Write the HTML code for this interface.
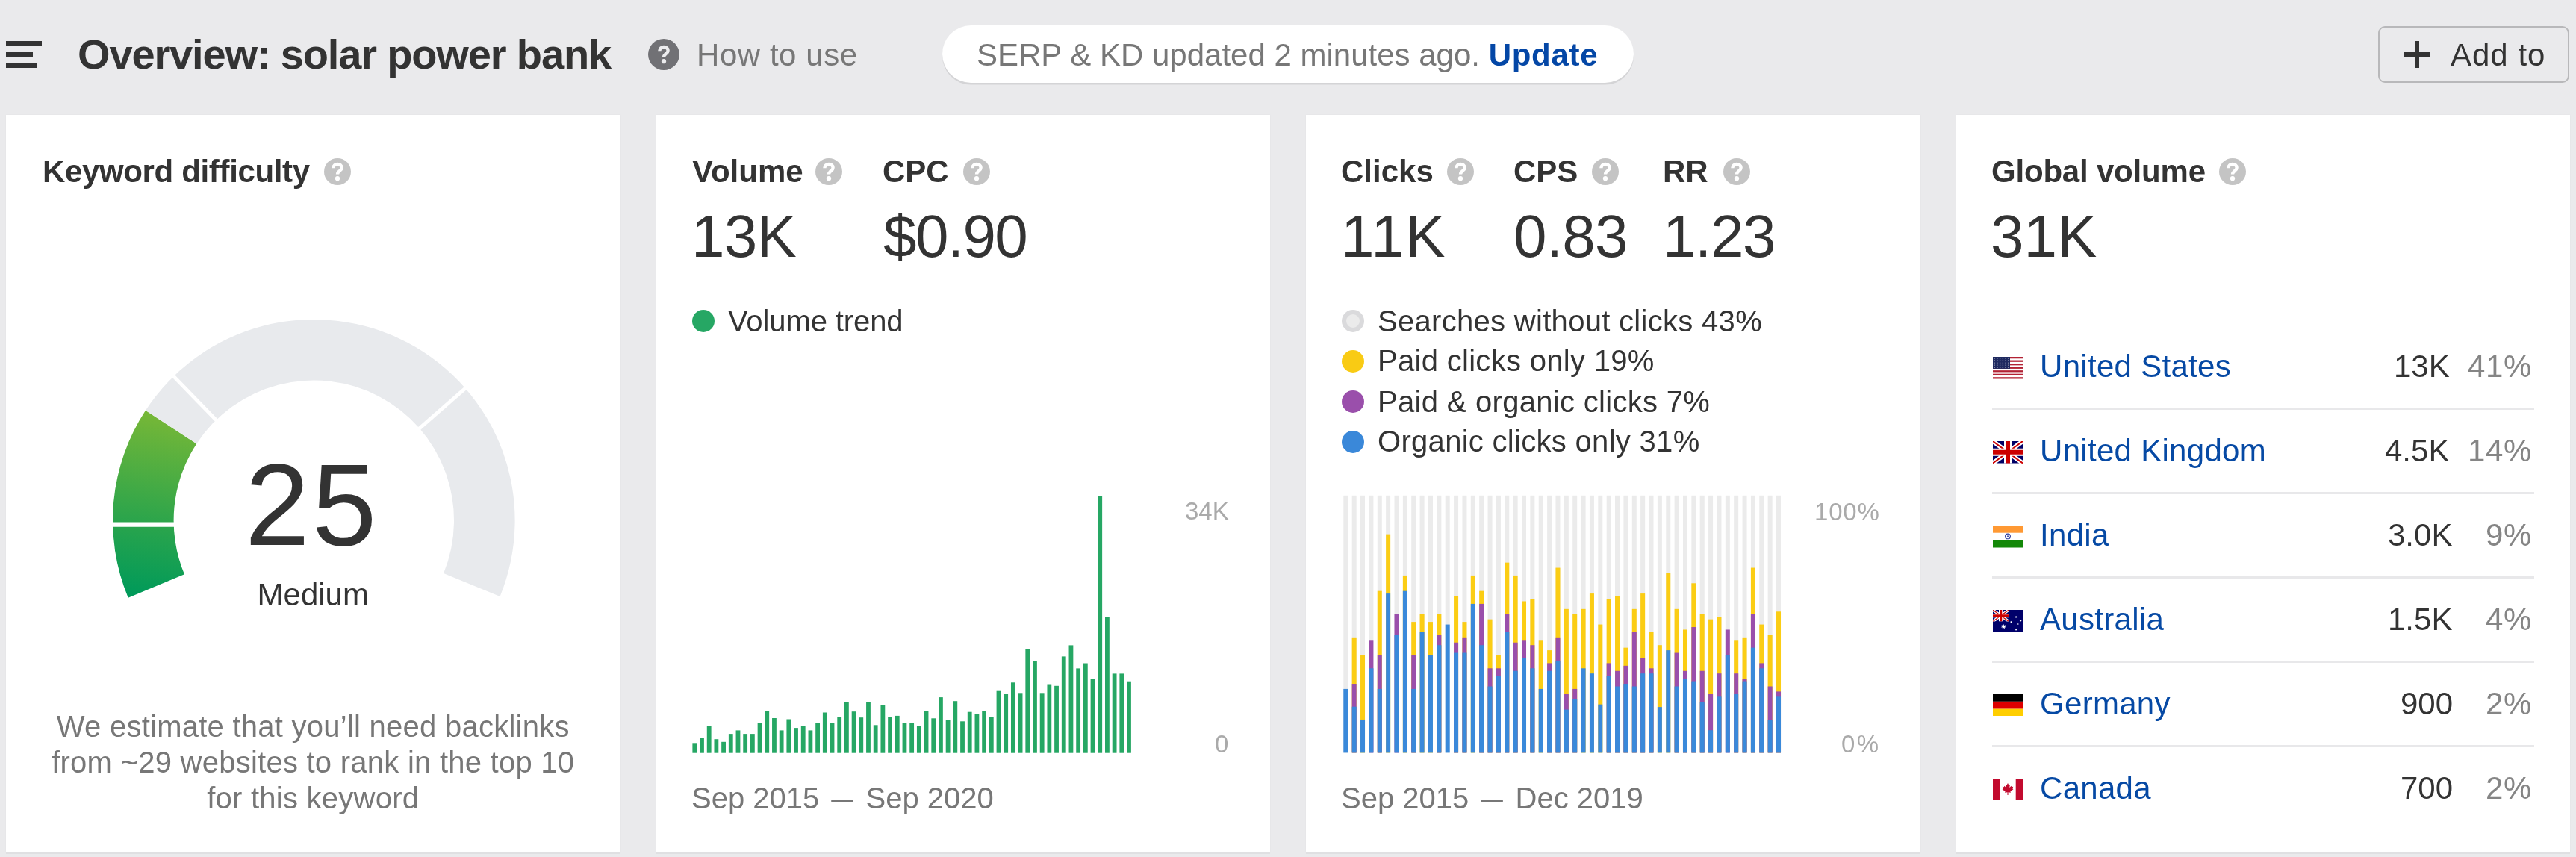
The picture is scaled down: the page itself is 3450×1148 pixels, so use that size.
<!DOCTYPE html><html><head><meta charset="utf-8"><style>
html,body{margin:0;padding:0;}
body{width:3450px;height:1148px;background:#eaeaec;position:relative;overflow:hidden;font-family:"Liberation Sans",sans-serif;}
.t{position:absolute;white-space:nowrap;line-height:1;will-change:transform;}
.a{position:absolute;display:block;}
.card{position:absolute;top:154px;height:987px;background:#fff;box-shadow:0 3px 0 #e0e0e2,0 0 1.5px rgba(0,0,0,0.06);}
</style></head><body>
<div class="a" style="left:8px;top:55px;width:48px;height:6px;background:#333"></div>
<div class="a" style="left:8px;top:70px;width:36px;height:6px;background:#333"></div>
<div class="a" style="left:8px;top:85px;width:42px;height:6px;background:#333"></div>
<div class="t" style="left:104.2px;top:45.1px;font-size:56px;font-weight:700;color:#333;letter-spacing:-1.15px;">Overview: solar power bank</div>
<svg class="a" style="left:868.0px;top:52.0px" width="42" height="42" viewBox="0 0 42 42"><circle cx="21.0" cy="21.0" r="21.0" fill="#717175"/><g transform="translate(3.0 3.0)"><path d="M12.4 13.2C12.4 9.9 14.8 8 18 8C21.2 8 23.6 9.9 23.6 12.7C23.6 15.3 21.6 16.3 20.1 17.7C18.8 18.9 18 19.6 18 21.4" fill="none" stroke="#ececee" stroke-width="4.4"/><circle cx="18" cy="27.2" r="3.1" fill="#ececee"/></g></svg>
<div class="t" style="left:933.0px;top:52.6px;font-size:42px;font-weight:400;color:#777;letter-spacing:0.55px;">How to use</div>
<div class="a" style="left:1261.6px;top:33.9px;width:926.6px;height:77.6px;border-radius:38.8px;background:#fff;box-shadow:0 2.6px 0.6px #d4d4d6"></div>
<div class="t" style="left:1308.0px;top:52.6px;font-size:42px;font-weight:400;color:#777;">SERP &amp; KD updated 2 minutes ago. <b style="color:#0447a6;letter-spacing:0.7px">Update</b></div>
<div class="a" style="left:3184.5px;top:34.5px;width:252px;height:72px;border:2.5px solid #b8b8ba;border-radius:9px"></div>
<div class="a" style="left:3219px;top:70px;width:36px;height:6px;background:#333"></div>
<div class="a" style="left:3234px;top:55px;width:6px;height:36px;background:#333"></div>
<div class="t" style="left:3282.0px;top:52.7px;font-size:42px;font-weight:400;color:#333;letter-spacing:1px;">Add to</div>
<div class="card" style="left:8px;width:823px"></div>
<div class="card" style="left:879px;width:822px"></div>
<div class="card" style="left:1749px;width:823px"></div>
<div class="card" style="left:2620px;width:822px"></div>
<div class="t" style="left:56.6px;top:208.9px;font-size:42px;font-weight:700;color:#333;letter-spacing:-0.35px;">Keyword difficulty</div>
<svg class="a" style="left:434.0px;top:212.0px" width="36" height="36" viewBox="0 0 36 36"><circle cx="18.0" cy="18.0" r="18.0" fill="#c4c4c4"/><g transform="translate(0.0 0.0)"><path d="M12.4 13.2C12.4 9.9 14.8 8 18 8C21.2 8 23.6 9.9 23.6 12.7C23.6 15.3 21.6 16.3 20.1 17.7C18.8 18.9 18 19.6 18 21.4" fill="none" stroke="#fff" stroke-width="4.4"/><circle cx="18" cy="27.2" r="3.1" fill="#fff"/></g></svg>
<div class="t" style="left:926.5px;top:208.9px;font-size:42px;font-weight:700;color:#333;">Volume</div>
<svg class="a" style="left:1092.0px;top:212.0px" width="36" height="36" viewBox="0 0 36 36"><circle cx="18.0" cy="18.0" r="18.0" fill="#c4c4c4"/><g transform="translate(0.0 0.0)"><path d="M12.4 13.2C12.4 9.9 14.8 8 18 8C21.2 8 23.6 9.9 23.6 12.7C23.6 15.3 21.6 16.3 20.1 17.7C18.8 18.9 18 19.6 18 21.4" fill="none" stroke="#fff" stroke-width="4.4"/><circle cx="18" cy="27.2" r="3.1" fill="#fff"/></g></svg>
<div class="t" style="left:1181.5px;top:208.9px;font-size:42px;font-weight:700;color:#333;">CPC</div>
<svg class="a" style="left:1290.0px;top:212.0px" width="36" height="36" viewBox="0 0 36 36"><circle cx="18.0" cy="18.0" r="18.0" fill="#c4c4c4"/><g transform="translate(0.0 0.0)"><path d="M12.4 13.2C12.4 9.9 14.8 8 18 8C21.2 8 23.6 9.9 23.6 12.7C23.6 15.3 21.6 16.3 20.1 17.7C18.8 18.9 18 19.6 18 21.4" fill="none" stroke="#fff" stroke-width="4.4"/><circle cx="18" cy="27.2" r="3.1" fill="#fff"/></g></svg>
<div class="t" style="left:1796.0px;top:208.9px;font-size:42px;font-weight:700;color:#333;">Clicks</div>
<svg class="a" style="left:1938.4px;top:212.0px" width="36" height="36" viewBox="0 0 36 36"><circle cx="18.0" cy="18.0" r="18.0" fill="#c4c4c4"/><g transform="translate(0.0 0.0)"><path d="M12.4 13.2C12.4 9.9 14.8 8 18 8C21.2 8 23.6 9.9 23.6 12.7C23.6 15.3 21.6 16.3 20.1 17.7C18.8 18.9 18 19.6 18 21.4" fill="none" stroke="#fff" stroke-width="4.4"/><circle cx="18" cy="27.2" r="3.1" fill="#fff"/></g></svg>
<div class="t" style="left:2026.8px;top:208.9px;font-size:42px;font-weight:700;color:#333;">CPS</div>
<svg class="a" style="left:2132.4px;top:212.0px" width="36" height="36" viewBox="0 0 36 36"><circle cx="18.0" cy="18.0" r="18.0" fill="#c4c4c4"/><g transform="translate(0.0 0.0)"><path d="M12.4 13.2C12.4 9.9 14.8 8 18 8C21.2 8 23.6 9.9 23.6 12.7C23.6 15.3 21.6 16.3 20.1 17.7C18.8 18.9 18 19.6 18 21.4" fill="none" stroke="#fff" stroke-width="4.4"/><circle cx="18" cy="27.2" r="3.1" fill="#fff"/></g></svg>
<div class="t" style="left:2226.7px;top:208.9px;font-size:42px;font-weight:700;color:#333;">RR</div>
<svg class="a" style="left:2308.0px;top:212.0px" width="36" height="36" viewBox="0 0 36 36"><circle cx="18.0" cy="18.0" r="18.0" fill="#c4c4c4"/><g transform="translate(0.0 0.0)"><path d="M12.4 13.2C12.4 9.9 14.8 8 18 8C21.2 8 23.6 9.9 23.6 12.7C23.6 15.3 21.6 16.3 20.1 17.7C18.8 18.9 18 19.6 18 21.4" fill="none" stroke="#fff" stroke-width="4.4"/><circle cx="18" cy="27.2" r="3.1" fill="#fff"/></g></svg>
<div class="t" style="left:2666.6px;top:208.9px;font-size:42px;font-weight:700;color:#333;letter-spacing:-0.2px;">Global volume</div>
<svg class="a" style="left:2972.0px;top:212.0px" width="36" height="36" viewBox="0 0 36 36"><circle cx="18.0" cy="18.0" r="18.0" fill="#c4c4c4"/><g transform="translate(0.0 0.0)"><path d="M12.4 13.2C12.4 9.9 14.8 8 18 8C21.2 8 23.6 9.9 23.6 12.7C23.6 15.3 21.6 16.3 20.1 17.7C18.8 18.9 18 19.6 18 21.4" fill="none" stroke="#fff" stroke-width="4.4"/><circle cx="18" cy="27.2" r="3.1" fill="#fff"/></g></svg>
<div class="t" style="left:925.8px;top:276.6px;font-size:80px;font-weight:400;color:#333;letter-spacing:-0.8px;">13K</div>
<div class="t" style="left:1183.4px;top:276.6px;font-size:80px;font-weight:400;color:#333;letter-spacing:-1.6px;">$0.90</div>
<div class="t" style="left:1796.3px;top:276.6px;font-size:80px;font-weight:400;color:#333;letter-spacing:1.6px;">11K</div>
<div class="t" style="left:2027.2px;top:276.6px;font-size:80px;font-weight:400;color:#333;letter-spacing:-0.7px;">0.83</div>
<div class="t" style="left:2227.3px;top:276.6px;font-size:80px;font-weight:400;color:#333;letter-spacing:-1.4px;">1.23</div>
<div class="t" style="left:2665.6px;top:276.6px;font-size:80px;font-weight:400;color:#333;">31K</div>
<svg class="a" style="left:0;top:0" width="850" height="1148" viewBox="0 0 850 1148"><defs><linearGradient id="gg" gradientUnits="userSpaceOnUse" x1="250" y1="548" x2="210" y2="802"><stop offset="0" stop-color="#7db935"/><stop offset="0.6" stop-color="#2da54b"/><stop offset="1" stop-color="#009a5a"/></linearGradient></defs><path d="M171.68 800.69A269.3 269.3 0 0 1 194.96 549.74L263.24 594.42A187.7 187.7 0 0 0 247.01 769.33Z" fill="url(#gg)"/><path d="M194.96 549.74A269.3 269.3 0 0 1 669.64 798.95L594.09 768.12A187.7 187.7 0 0 0 263.24 594.42Z" fill="#e8eaed"/><line x1="130" y1="702.6" x2="250" y2="702.6" stroke="#fff" stroke-width="6.4"/><line x1="295.02" y1="568.37" x2="226.98" y2="498.40" stroke="#fff" stroke-width="4.8"/><line x1="555.72" y1="579.07" x2="629.26" y2="514.91" stroke="#fff" stroke-width="4.8"/></svg>
<div class="t" style="left:8px;width:822.5px;text-align:center;top:598.1px;font-size:156px;color:#333;letter-spacing:3px;text-indent:-3px">25</div>
<div class="t" style="left:8px;width:822.5px;text-align:center;top:776.1px;font-size:42px;color:#333">Medium</div>
<div class="t" style="left:8px;width:822.5px;text-align:center;top:952.7px;font-size:40px;color:#777;letter-spacing:0.25px">We estimate that you’ll need backlinks</div>
<div class="t" style="left:8px;width:822.5px;text-align:center;top:1000.7px;font-size:40px;color:#777;letter-spacing:0.25px">from ~29 websites to rank in the top 10</div>
<div class="t" style="left:8px;width:822.5px;text-align:center;top:1048.8px;font-size:40px;color:#777;letter-spacing:0.25px">for this keyword</div>
<svg class="a" style="left:0;top:0" width="1700" height="1148"><rect x="927.40" y="995.30" width="5.8" height="13.40" fill="#26a764"/><rect x="937.10" y="988.20" width="5.8" height="20.50" fill="#26a764"/><rect x="946.79" y="972.10" width="5.8" height="36.60" fill="#26a764"/><rect x="956.49" y="990.20" width="5.8" height="18.50" fill="#26a764"/><rect x="966.18" y="993.80" width="5.8" height="14.90" fill="#26a764"/><rect x="975.88" y="983.10" width="5.8" height="25.60" fill="#26a764"/><rect x="985.57" y="978.40" width="5.8" height="30.30" fill="#26a764"/><rect x="995.26" y="983.10" width="5.8" height="25.60" fill="#26a764"/><rect x="1004.96" y="983.10" width="5.8" height="25.60" fill="#26a764"/><rect x="1014.65" y="968.50" width="5.8" height="40.20" fill="#26a764"/><rect x="1024.35" y="952.20" width="5.8" height="56.50" fill="#26a764"/><rect x="1034.05" y="962.00" width="5.8" height="46.70" fill="#26a764"/><rect x="1043.74" y="978.40" width="5.8" height="30.30" fill="#26a764"/><rect x="1053.43" y="963.50" width="5.8" height="45.20" fill="#26a764"/><rect x="1063.13" y="975.10" width="5.8" height="33.60" fill="#26a764"/><rect x="1072.83" y="972.40" width="5.8" height="36.30" fill="#26a764"/><rect x="1082.52" y="978.40" width="5.8" height="30.30" fill="#26a764"/><rect x="1092.21" y="968.80" width="5.8" height="39.90" fill="#26a764"/><rect x="1101.91" y="954.50" width="5.8" height="54.20" fill="#26a764"/><rect x="1111.61" y="968.50" width="5.8" height="40.20" fill="#26a764"/><rect x="1121.30" y="960.10" width="5.8" height="48.60" fill="#26a764"/><rect x="1130.99" y="940.30" width="5.8" height="68.40" fill="#26a764"/><rect x="1140.69" y="953.20" width="5.8" height="55.50" fill="#26a764"/><rect x="1150.38" y="961.20" width="5.8" height="47.50" fill="#26a764"/><rect x="1160.08" y="940.30" width="5.8" height="68.40" fill="#26a764"/><rect x="1169.78" y="971.30" width="5.8" height="37.40" fill="#26a764"/><rect x="1179.47" y="944.20" width="5.8" height="64.50" fill="#26a764"/><rect x="1189.16" y="960.10" width="5.8" height="48.60" fill="#26a764"/><rect x="1198.86" y="958.90" width="5.8" height="49.80" fill="#26a764"/><rect x="1208.56" y="968.90" width="5.8" height="39.80" fill="#26a764"/><rect x="1218.25" y="968.20" width="5.8" height="40.50" fill="#26a764"/><rect x="1227.94" y="973.00" width="5.8" height="35.70" fill="#26a764"/><rect x="1237.64" y="952.60" width="5.8" height="56.10" fill="#26a764"/><rect x="1247.34" y="962.30" width="5.8" height="46.40" fill="#26a764"/><rect x="1257.03" y="934.10" width="5.8" height="74.60" fill="#26a764"/><rect x="1266.72" y="965.00" width="5.8" height="43.70" fill="#26a764"/><rect x="1276.42" y="939.20" width="5.8" height="69.50" fill="#26a764"/><rect x="1286.12" y="966.30" width="5.8" height="42.40" fill="#26a764"/><rect x="1295.81" y="953.70" width="5.8" height="55.00" fill="#26a764"/><rect x="1305.51" y="956.30" width="5.8" height="52.40" fill="#26a764"/><rect x="1315.20" y="952.50" width="5.8" height="56.20" fill="#26a764"/><rect x="1324.89" y="960.70" width="5.8" height="48.00" fill="#26a764"/><rect x="1334.59" y="924.70" width="5.8" height="84.00" fill="#26a764"/><rect x="1344.28" y="929.00" width="5.8" height="79.70" fill="#26a764"/><rect x="1353.98" y="914.30" width="5.8" height="94.40" fill="#26a764"/><rect x="1363.67" y="928.30" width="5.8" height="80.40" fill="#26a764"/><rect x="1373.37" y="869.20" width="5.8" height="139.50" fill="#26a764"/><rect x="1383.07" y="886.00" width="5.8" height="122.70" fill="#26a764"/><rect x="1392.76" y="928.30" width="5.8" height="80.40" fill="#26a764"/><rect x="1402.45" y="916.50" width="5.8" height="92.20" fill="#26a764"/><rect x="1412.15" y="918.80" width="5.8" height="89.90" fill="#26a764"/><rect x="1421.85" y="879.40" width="5.8" height="129.30" fill="#26a764"/><rect x="1431.54" y="864.40" width="5.8" height="144.30" fill="#26a764"/><rect x="1441.24" y="895.40" width="5.8" height="113.30" fill="#26a764"/><rect x="1450.93" y="888.50" width="5.8" height="120.20" fill="#26a764"/><rect x="1460.62" y="909.50" width="5.8" height="99.20" fill="#26a764"/><rect x="1470.32" y="664.30" width="5.8" height="344.40" fill="#26a764"/><rect x="1480.01" y="826.40" width="5.8" height="182.30" fill="#26a764"/><rect x="1489.71" y="902.40" width="5.8" height="106.30" fill="#26a764"/><rect x="1499.40" y="902.40" width="5.8" height="106.30" fill="#26a764"/><rect x="1509.10" y="912.70" width="5.8" height="96.00" fill="#26a764"/></svg>
<div class="a" style="left:926.8px;top:415px;width:30px;height:30px;border-radius:50%;background:#26a764"></div>
<div class="t" style="left:975.0px;top:409.7px;font-size:40px;font-weight:400;color:#333;letter-spacing:-0.1px;">Volume trend</div>
<div class="t" style="right:1804.5px;top:668.1px;font-size:33px;font-weight:400;color:#aaa;">34K</div>
<div class="t" style="right:1804.5px;top:980.2px;font-size:33px;font-weight:400;color:#aaa;">0</div>
<div class="t" style="left:925.5px;top:1048.8px;font-size:40px;font-weight:400;color:#777;">Sep 2015 <span style="display:inline-block;transform:scaleX(0.74)">—</span> Sep 2020</div>
<svg class="a" style="left:0;top:0" width="2571" height="1148"><rect x="1799.30" y="663.8" width="6.0" height="344.60" fill="#ebebeb"/><rect x="1799.30" y="922.93" width="6.0" height="85.47" fill="#3a89da"/><rect x="1810.67" y="663.8" width="6.0" height="344.60" fill="#ebebeb"/><rect x="1810.67" y="853.83" width="6.0" height="154.57" fill="#fbcd14"/><rect x="1810.67" y="916.02" width="6.0" height="92.38" fill="#9a4fab"/><rect x="1810.67" y="946.68" width="6.0" height="61.72" fill="#3a89da"/><rect x="1822.03" y="663.8" width="6.0" height="344.60" fill="#ebebeb"/><rect x="1822.03" y="878.02" width="6.0" height="130.38" fill="#fbcd14"/><rect x="1822.03" y="963.96" width="6.0" height="44.44" fill="#3a89da"/><rect x="1833.40" y="663.8" width="6.0" height="344.60" fill="#ebebeb"/><rect x="1833.40" y="857.29" width="6.0" height="151.11" fill="#9a4fab"/><rect x="1833.40" y="895.29" width="6.0" height="113.11" fill="#3a89da"/><rect x="1844.77" y="663.8" width="6.0" height="344.60" fill="#ebebeb"/><rect x="1844.77" y="791.65" width="6.0" height="216.75" fill="#fbcd14"/><rect x="1844.77" y="878.02" width="6.0" height="130.38" fill="#9a4fab"/><rect x="1844.77" y="922.93" width="6.0" height="85.47" fill="#3a89da"/><rect x="1856.13" y="663.8" width="6.0" height="344.60" fill="#ebebeb"/><rect x="1856.13" y="715.64" width="6.0" height="292.76" fill="#fbcd14"/><rect x="1856.13" y="795.10" width="6.0" height="213.30" fill="#3a89da"/><rect x="1867.50" y="663.8" width="6.0" height="344.60" fill="#ebebeb"/><rect x="1867.50" y="822.74" width="6.0" height="185.66" fill="#9a4fab"/><rect x="1867.50" y="850.38" width="6.0" height="158.02" fill="#3a89da"/><rect x="1878.87" y="663.8" width="6.0" height="344.60" fill="#ebebeb"/><rect x="1878.87" y="770.92" width="6.0" height="237.48" fill="#fbcd14"/><rect x="1878.87" y="791.65" width="6.0" height="216.75" fill="#3a89da"/><rect x="1890.24" y="663.8" width="6.0" height="344.60" fill="#ebebeb"/><rect x="1890.24" y="833.11" width="6.0" height="175.29" fill="#fbcd14"/><rect x="1890.24" y="878.02" width="6.0" height="130.38" fill="#9a4fab"/><rect x="1890.24" y="922.93" width="6.0" height="85.47" fill="#3a89da"/><rect x="1901.60" y="663.8" width="6.0" height="344.60" fill="#ebebeb"/><rect x="1901.60" y="822.74" width="6.0" height="185.66" fill="#fbcd14"/><rect x="1901.60" y="846.93" width="6.0" height="161.47" fill="#3a89da"/><rect x="1912.97" y="663.8" width="6.0" height="344.60" fill="#ebebeb"/><rect x="1912.97" y="833.11" width="6.0" height="175.29" fill="#fbcd14"/><rect x="1912.97" y="878.02" width="6.0" height="130.38" fill="#3a89da"/><rect x="1924.34" y="663.8" width="6.0" height="344.60" fill="#ebebeb"/><rect x="1924.34" y="822.74" width="6.0" height="185.66" fill="#fbcd14"/><rect x="1924.34" y="850.38" width="6.0" height="158.02" fill="#9a4fab"/><rect x="1924.34" y="864.20" width="6.0" height="144.20" fill="#3a89da"/><rect x="1935.70" y="663.8" width="6.0" height="344.60" fill="#ebebeb"/><rect x="1935.70" y="836.56" width="6.0" height="171.84" fill="#3a89da"/><rect x="1947.07" y="663.8" width="6.0" height="344.60" fill="#ebebeb"/><rect x="1947.07" y="798.56" width="6.0" height="209.84" fill="#fbcd14"/><rect x="1947.07" y="860.74" width="6.0" height="147.66" fill="#9a4fab"/><rect x="1947.07" y="874.56" width="6.0" height="133.84" fill="#3a89da"/><rect x="1958.44" y="663.8" width="6.0" height="344.60" fill="#ebebeb"/><rect x="1958.44" y="833.11" width="6.0" height="175.29" fill="#fbcd14"/><rect x="1958.44" y="853.83" width="6.0" height="154.57" fill="#9a4fab"/><rect x="1958.44" y="874.56" width="6.0" height="133.84" fill="#3a89da"/><rect x="1969.81" y="663.8" width="6.0" height="344.60" fill="#ebebeb"/><rect x="1969.81" y="770.92" width="6.0" height="237.48" fill="#fbcd14"/><rect x="1969.81" y="808.92" width="6.0" height="199.48" fill="#3a89da"/><rect x="1981.17" y="663.8" width="6.0" height="344.60" fill="#ebebeb"/><rect x="1981.17" y="791.65" width="6.0" height="216.75" fill="#fbcd14"/><rect x="1981.17" y="808.92" width="6.0" height="199.48" fill="#9a4fab"/><rect x="1981.17" y="864.20" width="6.0" height="144.20" fill="#3a89da"/><rect x="1992.54" y="663.8" width="6.0" height="344.60" fill="#ebebeb"/><rect x="1992.54" y="829.65" width="6.0" height="178.75" fill="#fbcd14"/><rect x="1992.54" y="895.29" width="6.0" height="113.11" fill="#9a4fab"/><rect x="1992.54" y="919.48" width="6.0" height="88.92" fill="#3a89da"/><rect x="2003.91" y="663.8" width="6.0" height="344.60" fill="#ebebeb"/><rect x="2003.91" y="878.02" width="6.0" height="130.38" fill="#fbcd14"/><rect x="2003.91" y="895.29" width="6.0" height="113.11" fill="#9a4fab"/><rect x="2003.91" y="905.66" width="6.0" height="102.74" fill="#3a89da"/><rect x="2015.27" y="663.8" width="6.0" height="344.60" fill="#ebebeb"/><rect x="2015.27" y="753.64" width="6.0" height="254.76" fill="#fbcd14"/><rect x="2015.27" y="822.74" width="6.0" height="185.66" fill="#9a4fab"/><rect x="2015.27" y="846.93" width="6.0" height="161.47" fill="#3a89da"/><rect x="2026.64" y="663.8" width="6.0" height="344.60" fill="#ebebeb"/><rect x="2026.64" y="770.92" width="6.0" height="237.48" fill="#fbcd14"/><rect x="2026.64" y="860.74" width="6.0" height="147.66" fill="#9a4fab"/><rect x="2026.64" y="898.75" width="6.0" height="109.65" fill="#3a89da"/><rect x="2038.01" y="663.8" width="6.0" height="344.60" fill="#ebebeb"/><rect x="2038.01" y="805.47" width="6.0" height="202.93" fill="#fbcd14"/><rect x="2038.01" y="857.29" width="6.0" height="151.11" fill="#9a4fab"/><rect x="2038.01" y="881.47" width="6.0" height="126.93" fill="#3a89da"/><rect x="2049.37" y="663.8" width="6.0" height="344.60" fill="#ebebeb"/><rect x="2049.37" y="802.01" width="6.0" height="206.39" fill="#fbcd14"/><rect x="2049.37" y="864.20" width="6.0" height="144.20" fill="#9a4fab"/><rect x="2049.37" y="895.29" width="6.0" height="113.11" fill="#3a89da"/><rect x="2060.74" y="663.8" width="6.0" height="344.60" fill="#ebebeb"/><rect x="2060.74" y="857.29" width="6.0" height="151.11" fill="#fbcd14"/><rect x="2060.74" y="922.93" width="6.0" height="85.47" fill="#3a89da"/><rect x="2072.11" y="663.8" width="6.0" height="344.60" fill="#ebebeb"/><rect x="2072.11" y="871.11" width="6.0" height="137.29" fill="#fbcd14"/><rect x="2072.11" y="888.38" width="6.0" height="120.02" fill="#9a4fab"/><rect x="2072.11" y="898.75" width="6.0" height="109.65" fill="#3a89da"/><rect x="2083.47" y="663.8" width="6.0" height="344.60" fill="#ebebeb"/><rect x="2083.47" y="760.55" width="6.0" height="247.85" fill="#fbcd14"/><rect x="2083.47" y="853.83" width="6.0" height="154.57" fill="#9a4fab"/><rect x="2083.47" y="884.93" width="6.0" height="123.47" fill="#3a89da"/><rect x="2094.84" y="663.8" width="6.0" height="344.60" fill="#ebebeb"/><rect x="2094.84" y="815.83" width="6.0" height="192.57" fill="#fbcd14"/><rect x="2094.84" y="929.84" width="6.0" height="78.56" fill="#9a4fab"/><rect x="2094.84" y="950.57" width="6.0" height="57.83" fill="#3a89da"/><rect x="2106.21" y="663.8" width="6.0" height="344.60" fill="#ebebeb"/><rect x="2106.21" y="822.74" width="6.0" height="185.66" fill="#fbcd14"/><rect x="2106.21" y="922.93" width="6.0" height="85.47" fill="#9a4fab"/><rect x="2106.21" y="936.75" width="6.0" height="71.65" fill="#3a89da"/><rect x="2117.58" y="663.8" width="6.0" height="344.60" fill="#ebebeb"/><rect x="2117.58" y="815.83" width="6.0" height="192.57" fill="#fbcd14"/><rect x="2117.58" y="895.29" width="6.0" height="113.11" fill="#3a89da"/><rect x="2128.94" y="663.8" width="6.0" height="344.60" fill="#ebebeb"/><rect x="2128.94" y="795.10" width="6.0" height="213.30" fill="#fbcd14"/><rect x="2128.94" y="902.20" width="6.0" height="106.20" fill="#3a89da"/><rect x="2140.31" y="663.8" width="6.0" height="344.60" fill="#ebebeb"/><rect x="2140.31" y="836.56" width="6.0" height="171.84" fill="#fbcd14"/><rect x="2140.31" y="943.66" width="6.0" height="64.74" fill="#3a89da"/><rect x="2151.68" y="663.8" width="6.0" height="344.60" fill="#ebebeb"/><rect x="2151.68" y="802.01" width="6.0" height="206.39" fill="#fbcd14"/><rect x="2151.68" y="888.38" width="6.0" height="120.02" fill="#9a4fab"/><rect x="2151.68" y="905.66" width="6.0" height="102.74" fill="#3a89da"/><rect x="2163.04" y="663.8" width="6.0" height="344.60" fill="#ebebeb"/><rect x="2163.04" y="798.56" width="6.0" height="209.84" fill="#fbcd14"/><rect x="2163.04" y="898.75" width="6.0" height="109.65" fill="#9a4fab"/><rect x="2163.04" y="919.48" width="6.0" height="88.92" fill="#3a89da"/><rect x="2174.41" y="663.8" width="6.0" height="344.60" fill="#ebebeb"/><rect x="2174.41" y="867.65" width="6.0" height="140.75" fill="#fbcd14"/><rect x="2174.41" y="891.84" width="6.0" height="116.56" fill="#9a4fab"/><rect x="2174.41" y="916.02" width="6.0" height="92.38" fill="#3a89da"/><rect x="2185.78" y="663.8" width="6.0" height="344.60" fill="#ebebeb"/><rect x="2185.78" y="815.83" width="6.0" height="192.57" fill="#fbcd14"/><rect x="2185.78" y="846.93" width="6.0" height="161.47" fill="#9a4fab"/><rect x="2185.78" y="919.48" width="6.0" height="88.92" fill="#3a89da"/><rect x="2197.14" y="663.8" width="6.0" height="344.60" fill="#ebebeb"/><rect x="2197.14" y="795.10" width="6.0" height="213.30" fill="#fbcd14"/><rect x="2197.14" y="881.47" width="6.0" height="126.93" fill="#9a4fab"/><rect x="2197.14" y="902.20" width="6.0" height="106.20" fill="#3a89da"/><rect x="2208.51" y="663.8" width="6.0" height="344.60" fill="#ebebeb"/><rect x="2208.51" y="846.93" width="6.0" height="161.47" fill="#fbcd14"/><rect x="2208.51" y="895.29" width="6.0" height="113.11" fill="#9a4fab"/><rect x="2208.51" y="902.20" width="6.0" height="106.20" fill="#3a89da"/><rect x="2219.88" y="663.8" width="6.0" height="344.60" fill="#ebebeb"/><rect x="2219.88" y="864.20" width="6.0" height="144.20" fill="#fbcd14"/><rect x="2219.88" y="947.12" width="6.0" height="61.28" fill="#3a89da"/><rect x="2231.25" y="663.8" width="6.0" height="344.60" fill="#ebebeb"/><rect x="2231.25" y="767.46" width="6.0" height="240.94" fill="#fbcd14"/><rect x="2231.25" y="871.11" width="6.0" height="137.29" fill="#3a89da"/><rect x="2242.61" y="663.8" width="6.0" height="344.60" fill="#ebebeb"/><rect x="2242.61" y="815.83" width="6.0" height="192.57" fill="#fbcd14"/><rect x="2242.61" y="874.56" width="6.0" height="133.84" fill="#9a4fab"/><rect x="2242.61" y="919.48" width="6.0" height="88.92" fill="#3a89da"/><rect x="2253.98" y="663.8" width="6.0" height="344.60" fill="#ebebeb"/><rect x="2253.98" y="843.47" width="6.0" height="164.93" fill="#fbcd14"/><rect x="2253.98" y="898.75" width="6.0" height="109.65" fill="#9a4fab"/><rect x="2253.98" y="909.11" width="6.0" height="99.29" fill="#3a89da"/><rect x="2265.35" y="663.8" width="6.0" height="344.60" fill="#ebebeb"/><rect x="2265.35" y="781.28" width="6.0" height="227.12" fill="#fbcd14"/><rect x="2265.35" y="840.02" width="6.0" height="168.38" fill="#9a4fab"/><rect x="2265.35" y="912.57" width="6.0" height="95.83" fill="#3a89da"/><rect x="2276.71" y="663.8" width="6.0" height="344.60" fill="#ebebeb"/><rect x="2276.71" y="822.74" width="6.0" height="185.66" fill="#fbcd14"/><rect x="2276.71" y="898.75" width="6.0" height="109.65" fill="#9a4fab"/><rect x="2276.71" y="940.21" width="6.0" height="68.19" fill="#3a89da"/><rect x="2288.08" y="663.8" width="6.0" height="344.60" fill="#ebebeb"/><rect x="2288.08" y="829.65" width="6.0" height="178.75" fill="#fbcd14"/><rect x="2288.08" y="929.84" width="6.0" height="78.56" fill="#9a4fab"/><rect x="2288.08" y="978.21" width="6.0" height="30.19" fill="#3a89da"/><rect x="2299.45" y="663.8" width="6.0" height="344.60" fill="#ebebeb"/><rect x="2299.45" y="826.20" width="6.0" height="182.20" fill="#fbcd14"/><rect x="2299.45" y="902.20" width="6.0" height="106.20" fill="#9a4fab"/><rect x="2299.45" y="933.30" width="6.0" height="75.10" fill="#3a89da"/><rect x="2310.82" y="663.8" width="6.0" height="344.60" fill="#ebebeb"/><rect x="2310.82" y="843.47" width="6.0" height="164.93" fill="#9a4fab"/><rect x="2310.82" y="878.02" width="6.0" height="130.38" fill="#3a89da"/><rect x="2322.18" y="663.8" width="6.0" height="344.60" fill="#ebebeb"/><rect x="2322.18" y="857.29" width="6.0" height="151.11" fill="#fbcd14"/><rect x="2322.18" y="902.20" width="6.0" height="106.20" fill="#9a4fab"/><rect x="2322.18" y="929.84" width="6.0" height="78.56" fill="#3a89da"/><rect x="2333.55" y="663.8" width="6.0" height="344.60" fill="#ebebeb"/><rect x="2333.55" y="853.83" width="6.0" height="154.57" fill="#fbcd14"/><rect x="2333.55" y="909.11" width="6.0" height="99.29" fill="#9a4fab"/><rect x="2333.55" y="912.57" width="6.0" height="95.83" fill="#3a89da"/><rect x="2344.92" y="663.8" width="6.0" height="344.60" fill="#ebebeb"/><rect x="2344.92" y="760.55" width="6.0" height="247.85" fill="#fbcd14"/><rect x="2344.92" y="822.74" width="6.0" height="185.66" fill="#9a4fab"/><rect x="2344.92" y="867.65" width="6.0" height="140.75" fill="#3a89da"/><rect x="2356.28" y="663.8" width="6.0" height="344.60" fill="#ebebeb"/><rect x="2356.28" y="836.56" width="6.0" height="171.84" fill="#fbcd14"/><rect x="2356.28" y="888.38" width="6.0" height="120.02" fill="#9a4fab"/><rect x="2356.28" y="895.29" width="6.0" height="113.11" fill="#3a89da"/><rect x="2367.65" y="663.8" width="6.0" height="344.60" fill="#ebebeb"/><rect x="2367.65" y="850.38" width="6.0" height="158.02" fill="#fbcd14"/><rect x="2367.65" y="919.48" width="6.0" height="88.92" fill="#9a4fab"/><rect x="2367.65" y="964.39" width="6.0" height="44.01" fill="#3a89da"/><rect x="2379.02" y="663.8" width="6.0" height="344.60" fill="#ebebeb"/><rect x="2379.02" y="819.29" width="6.0" height="189.11" fill="#fbcd14"/><rect x="2379.02" y="926.39" width="6.0" height="82.01" fill="#9a4fab"/><rect x="2379.02" y="933.30" width="6.0" height="75.10" fill="#3a89da"/></svg>
<div class="a" style="left:1797px;top:415px;width:18px;height:18px;border-radius:50%;background:#ebebeb;border:6px solid #dadadc"></div>
<div class="t" style="left:1844.5px;top:409.6px;font-size:40px;font-weight:400;color:#333;letter-spacing:0.3px;">Searches without clicks 43%</div>
<div class="a" style="left:1797px;top:469px;width:30px;height:30px;border-radius:50%;background:#f9cb14"></div>
<div class="t" style="left:1844.5px;top:463.2px;font-size:40px;font-weight:400;color:#333;letter-spacing:0.3px;">Paid clicks only 19%</div>
<div class="a" style="left:1797px;top:523px;width:30px;height:30px;border-radius:50%;background:#9a4fab"></div>
<div class="t" style="left:1844.5px;top:517.7px;font-size:40px;font-weight:400;color:#333;letter-spacing:0.3px;">Paid &amp; organic clicks 7%</div>
<div class="a" style="left:1797px;top:577px;width:30px;height:30px;border-radius:50%;background:#3a88d9"></div>
<div class="t" style="left:1844.5px;top:571.4px;font-size:40px;font-weight:400;color:#333;letter-spacing:0.3px;">Organic clicks only 31%</div>
<div class="t" style="right:932.8px;top:668.8px;font-size:33px;font-weight:400;color:#aaa;letter-spacing:0.8px;">100%</div>
<div class="t" style="right:931.6px;top:980.1px;font-size:33px;font-weight:400;color:#aaa;letter-spacing:2.5px;">0%</div>
<div class="t" style="left:1795.5px;top:1048.8px;font-size:40px;font-weight:400;color:#777;">Sep 2015 <span style="display:inline-block;transform:scaleX(0.74)">—</span> Dec 2019</div>
<svg class="a" style="left:2669px;top:478.3px" width="40" height="29.5" viewBox="0 0 40 30" preserveAspectRatio="none"><rect width="40" height="30" fill="#fff"/><rect y="0.00" width="40" height="2.31" fill="#b22234"/><rect y="4.62" width="40" height="2.31" fill="#b22234"/><rect y="9.23" width="40" height="2.31" fill="#b22234"/><rect y="13.85" width="40" height="2.31" fill="#b22234"/><rect y="18.46" width="40" height="2.31" fill="#b22234"/><rect y="23.08" width="40" height="2.31" fill="#b22234"/><rect y="27.69" width="40" height="2.31" fill="#b22234"/><rect width="23" height="16.2" fill="#1f2a60"/><circle cx="2.0" cy="2.0" r="0.7" fill="#fff"/><circle cx="5.8" cy="2.0" r="0.7" fill="#fff"/><circle cx="9.6" cy="2.0" r="0.7" fill="#fff"/><circle cx="13.4" cy="2.0" r="0.7" fill="#fff"/><circle cx="17.2" cy="2.0" r="0.7" fill="#fff"/><circle cx="21.0" cy="2.0" r="0.7" fill="#fff"/><circle cx="2.0" cy="5.1" r="0.7" fill="#fff"/><circle cx="5.8" cy="5.1" r="0.7" fill="#fff"/><circle cx="9.6" cy="5.1" r="0.7" fill="#fff"/><circle cx="13.4" cy="5.1" r="0.7" fill="#fff"/><circle cx="17.2" cy="5.1" r="0.7" fill="#fff"/><circle cx="21.0" cy="5.1" r="0.7" fill="#fff"/><circle cx="2.0" cy="8.2" r="0.7" fill="#fff"/><circle cx="5.8" cy="8.2" r="0.7" fill="#fff"/><circle cx="9.6" cy="8.2" r="0.7" fill="#fff"/><circle cx="13.4" cy="8.2" r="0.7" fill="#fff"/><circle cx="17.2" cy="8.2" r="0.7" fill="#fff"/><circle cx="21.0" cy="8.2" r="0.7" fill="#fff"/><circle cx="2.0" cy="11.3" r="0.7" fill="#fff"/><circle cx="5.8" cy="11.3" r="0.7" fill="#fff"/><circle cx="9.6" cy="11.3" r="0.7" fill="#fff"/><circle cx="13.4" cy="11.3" r="0.7" fill="#fff"/><circle cx="17.2" cy="11.3" r="0.7" fill="#fff"/><circle cx="21.0" cy="11.3" r="0.7" fill="#fff"/><circle cx="2.0" cy="14.4" r="0.7" fill="#fff"/><circle cx="5.8" cy="14.4" r="0.7" fill="#fff"/><circle cx="9.6" cy="14.4" r="0.7" fill="#fff"/><circle cx="13.4" cy="14.4" r="0.7" fill="#fff"/><circle cx="17.2" cy="14.4" r="0.7" fill="#fff"/><circle cx="21.0" cy="14.4" r="0.7" fill="#fff"/></svg>
<div class="t" style="left:2731.5px;top:470.3px;font-size:42px;font-weight:400;color:#0649a4;letter-spacing:0.3px;">United States</div>
<div class="t" style="right:169.2px;top:470.3px;font-size:42px;font-weight:400;color:#333;">13K</div>
<div class="t" style="right:59.0px;top:470.3px;font-size:42px;font-weight:400;color:#858585;letter-spacing:0.6px;">41%</div>
<div class="a" style="left:2668px;top:546.0px;width:726px;height:3px;background:#e8e8ea"></div>
<svg class="a" style="left:2669px;top:591.2px" width="40" height="29.5" viewBox="0 0 40 30" preserveAspectRatio="none"><rect width="40" height="30" fill="#000066"/><path d="M0 0L40 30M40 0L0 30" stroke="#fff" stroke-width="6"/><path d="M0 0L40 30M40 0L0 30" stroke="#cc0000" stroke-width="2"/><path d="M20 0V30M0 15H40" stroke="#fff" stroke-width="10"/><path d="M20 0V30M0 15H40" stroke="#cc0000" stroke-width="6"/></svg>
<div class="t" style="left:2731.5px;top:583.3px;font-size:42px;font-weight:400;color:#0649a4;letter-spacing:0.3px;">United Kingdom</div>
<div class="t" style="right:169.2px;top:583.3px;font-size:42px;font-weight:400;color:#333;">4.5K</div>
<div class="t" style="right:59.0px;top:583.3px;font-size:42px;font-weight:400;color:#858585;letter-spacing:0.6px;">14%</div>
<div class="a" style="left:2668px;top:659.0px;width:726px;height:3px;background:#e8e8ea"></div>
<svg class="a" style="left:2669px;top:704.1px" width="40" height="29.5" viewBox="0 0 40 30" preserveAspectRatio="none"><rect width="40" height="10" fill="#ff9933"/><rect y="10" width="40" height="10" fill="#fff"/><rect y="20" width="40" height="10" fill="#138808"/><circle cx="20" cy="14.7" r="3.4" fill="none" stroke="#2a3a9a" stroke-width="1.1"/><circle cx="20" cy="14.7" r="1.1" fill="#4a55b0"/></svg>
<div class="t" style="left:2731.5px;top:696.3px;font-size:42px;font-weight:400;color:#0649a4;letter-spacing:0.3px;">India</div>
<div class="t" style="right:165.2px;top:696.3px;font-size:42px;font-weight:400;color:#333;">3.0K</div>
<div class="t" style="right:59.0px;top:696.3px;font-size:42px;font-weight:400;color:#858585;letter-spacing:0.6px;">9%</div>
<div class="a" style="left:2668px;top:772.0px;width:726px;height:3px;background:#e8e8ea"></div>
<svg class="a" style="left:2669px;top:817.0px" width="40" height="29.5" viewBox="0 0 40 30" preserveAspectRatio="none"><rect width="40" height="30" fill="#00006a"/><svg width="21.3" height="15.8" viewBox="0 0 20 15" preserveAspectRatio="none"><path d="M0 0L20 15M20 0L0 15" stroke="#fff" stroke-width="3.5"/><path d="M0 0L20 15M20 0L0 15" stroke="#cc0000" stroke-width="1.2"/><path d="M10 0V15M0 7.5H20" stroke="#fff" stroke-width="5"/><path d="M10 0V15M0 7.5H20" stroke="#cc0000" stroke-width="3"/></svg><polygon points="14.30,19.20 15.04,21.27 17.11,20.56 15.96,22.42 17.81,23.60 15.63,23.86 15.86,26.04 14.30,24.50 12.74,26.04 12.97,23.86 10.79,23.60 12.64,22.42 11.49,20.56 13.56,21.27" fill="#fff"/><polygon points="31.10,8.10 31.45,8.98 32.35,8.70 31.88,9.52 32.66,10.06 31.73,10.20 31.79,11.14 31.10,10.50 30.41,11.14 30.47,10.20 29.54,10.06 30.32,9.52 29.85,8.70 30.75,8.98" fill="#fff"/><polygon points="37.20,13.10 37.55,13.98 38.45,13.70 37.98,14.52 38.76,15.06 37.83,15.20 37.89,16.14 37.20,15.50 36.51,16.14 36.57,15.20 35.64,15.06 36.42,14.52 35.95,13.70 36.85,13.98" fill="#fff"/><polygon points="24.60,14.90 24.95,15.78 25.85,15.50 25.38,16.32 26.16,16.86 25.23,17.00 25.29,17.94 24.60,17.30 23.91,17.94 23.97,17.00 23.04,16.86 23.82,16.32 23.35,15.50 24.25,15.78" fill="#fff"/><circle cx="33.8" cy="19.4" r="0.8" fill="#fff"/><polygon points="31.10,25.20 31.45,26.08 32.35,25.80 31.88,26.62 32.66,27.16 31.73,27.30 31.79,28.24 31.10,27.60 30.41,28.24 30.47,27.30 29.54,27.16 30.32,26.62 29.85,25.80 30.75,26.08" fill="#fff"/></svg>
<div class="t" style="left:2731.5px;top:809.2px;font-size:42px;font-weight:400;color:#0649a4;letter-spacing:0.3px;">Australia</div>
<div class="t" style="right:165.2px;top:809.2px;font-size:42px;font-weight:400;color:#333;">1.5K</div>
<div class="t" style="right:59.0px;top:809.2px;font-size:42px;font-weight:400;color:#858585;letter-spacing:0.6px;">4%</div>
<div class="a" style="left:2668px;top:885.0px;width:726px;height:3px;background:#e8e8ea"></div>
<svg class="a" style="left:2669px;top:929.9px" width="40" height="29.5" viewBox="0 0 40 30" preserveAspectRatio="none"><rect width="40" height="10" fill="#000"/><rect y="10" width="40" height="10" fill="#dd0000"/><rect y="20" width="40" height="10" fill="#ffce00"/></svg>
<div class="t" style="left:2731.5px;top:922.2px;font-size:42px;font-weight:400;color:#0649a4;letter-spacing:0.3px;">Germany</div>
<div class="t" style="right:165.2px;top:922.2px;font-size:42px;font-weight:400;color:#333;">900</div>
<div class="t" style="right:59.0px;top:922.2px;font-size:42px;font-weight:400;color:#858585;letter-spacing:0.6px;">2%</div>
<div class="a" style="left:2668px;top:998.0px;width:726px;height:3px;background:#e8e8ea"></div>
<svg class="a" style="left:2669px;top:1042.8px" width="40" height="29.5" viewBox="0 0 40 30" preserveAspectRatio="none"><rect width="40" height="30" fill="#fff"/><rect width="9.3" height="30" fill="#c20a2e"/><rect x="30.7" width="9.3" height="30" fill="#c20a2e"/><g transform="translate(20 6) scale(0.86) translate(-20 -6)"><path d="M20 6L21.6 9.4L23.4 8.6L22.6 13.2L25.4 10.6L26 12.2L28.4 11.8L27.4 15L28.6 15.8L24 19.4L24.6 21.2L20.6 20.6L20.6 25H19.4L19.4 20.6L15.4 21.2L16 19.4L11.4 15.8L12.6 15L11.6 11.8L14 12.2L14.6 10.6L17.4 13.2L16.6 8.6L18.4 9.4Z" fill="#c20a2e"/></g></svg>
<div class="t" style="left:2731.5px;top:1035.1px;font-size:42px;font-weight:400;color:#0649a4;letter-spacing:0.3px;">Canada</div>
<div class="t" style="right:165.2px;top:1035.1px;font-size:42px;font-weight:400;color:#333;">700</div>
<div class="t" style="right:59.0px;top:1035.1px;font-size:42px;font-weight:400;color:#858585;letter-spacing:0.6px;">2%</div>
</body></html>
